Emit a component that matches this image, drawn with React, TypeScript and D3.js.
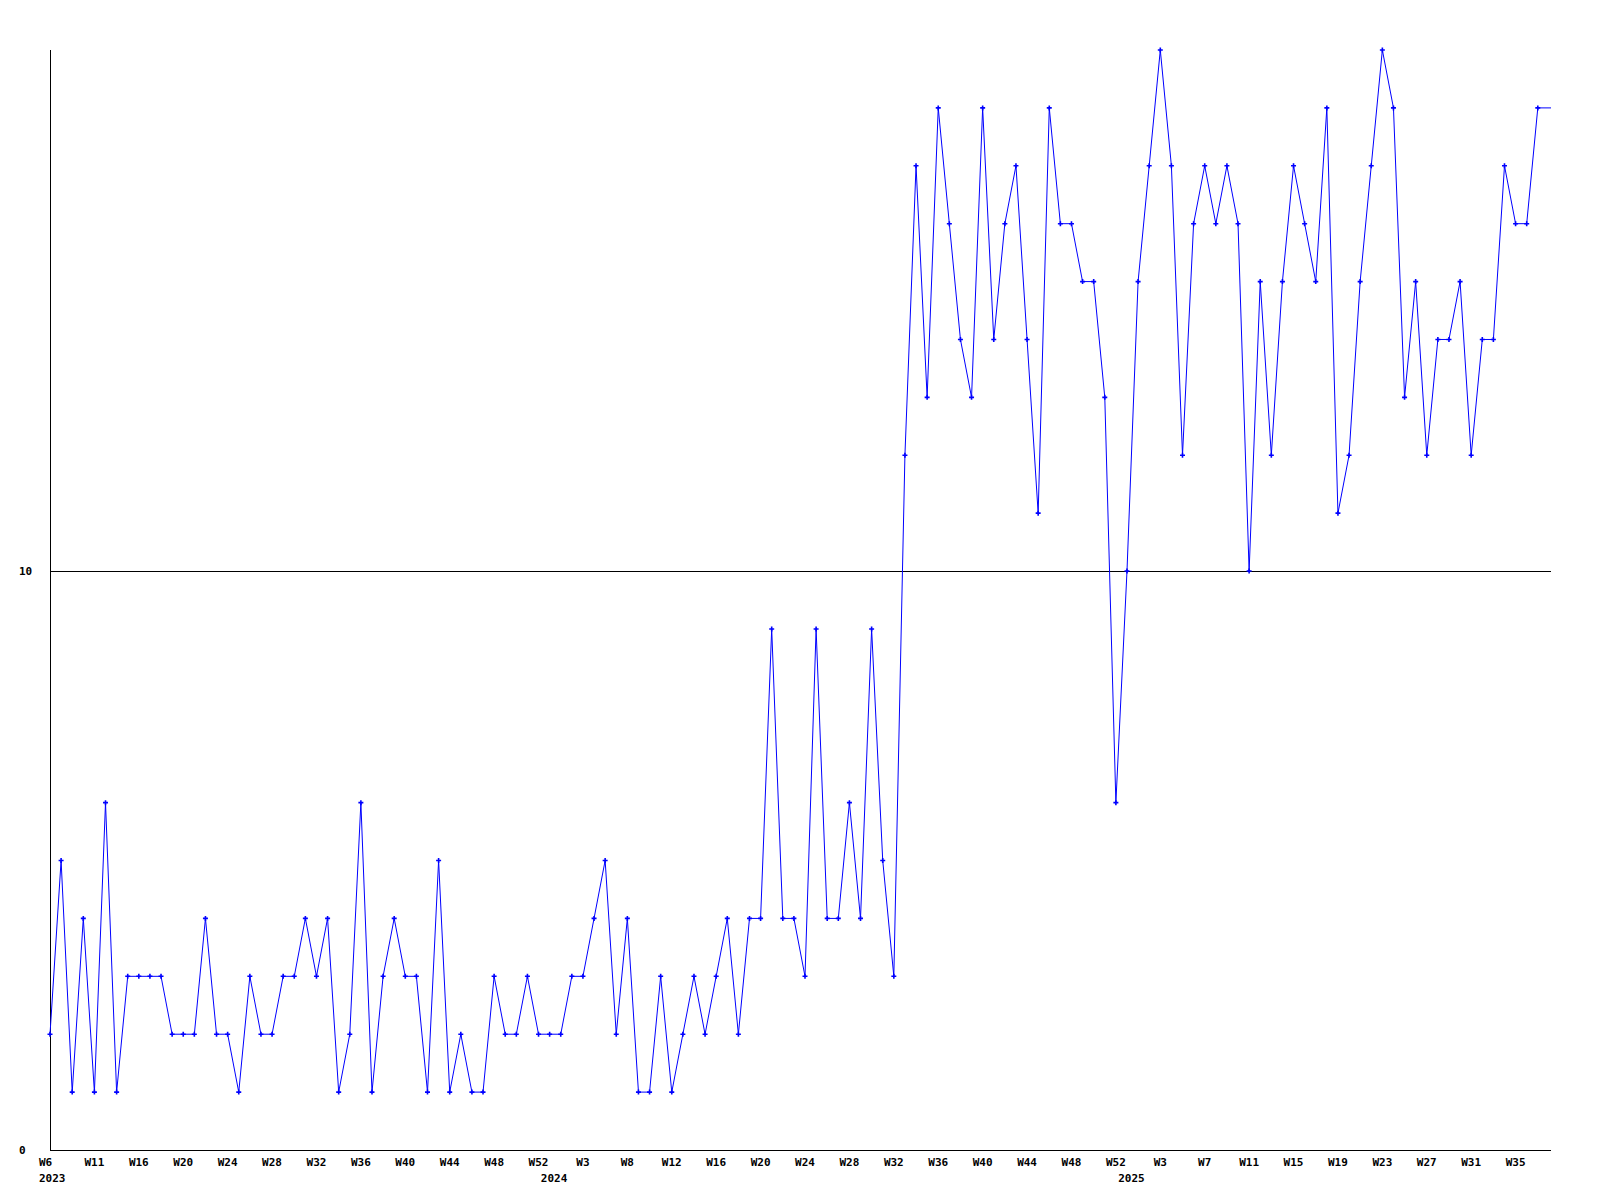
import React from "react";
import * as d3 from "d3";

// Weekly values, 2023 W6 .. 2025 W36 (one per week)
const values: number[] = [
  2, 5, 1, 4, 1, 6, 1, 3, 3, 3, 3, 2, 2, 2, 4, 2, 2, 1, 3, 2,
  2, 3, 3, 4, 3, 4, 1, 2, 6, 1, 3, 4, 3, 3, 1, 5, 1, 2, 1, 1,
  3, 2, 2, 3, 2, 2, 2, 3, 3, 4, 5, 2, 4, 1, 1, 3, 1, 2, 3, 2,
  3, 4, 2, 4, 4, 9, 4, 4, 3, 9, 4, 4, 6, 4, 9, 5, 3, 12, 17, 13,
  18, 16, 14, 13, 18, 14, 16, 17, 14, 11, 18, 16, 16, 15, 15, 13, 6, 10, 15, 17,
  19, 17, 12, 16, 17, 16, 17, 16, 10, 15, 12, 15, 17, 16, 15, 18, 11, 12, 15, 17,
  19, 18, 13, 15, 12, 14, 14, 15, 12, 14, 14, 17, 16, 16, 18,
];

// Week tick labels, one every 4 data points
const weekTickLabels: string[] = [
  "W6", "W11", "W16", "W20", "W24", "W28", "W32", "W36", "W40", "W44", "W48", "W52",
  "W3", "W8", "W12", "W16", "W20", "W24", "W28", "W32", "W36", "W40", "W44", "W48", "W52",
  "W3", "W7", "W11", "W15", "W19", "W23", "W27", "W31", "W35",
];
const tickStep = 4;

// Year labels with the index of the first week of each year
const years: string[] = ["2023", "2024", "2025"];
const yearStartIndex: number[] = [-5, 47, 99];

const yTicks: number[] = [0, 10];

const W = 1600;
const H = 1200;
const left = 50;
const right = 1551;
const top = 50;
const bottom = 1150;

export default function App() {
  const n = values.length;
  const xMax = (right - left) / ((1537.8 - left) / (n - 1));
  const x = d3.scaleLinear().domain([0, xMax]).range([left, right]);
  const y = d3.scaleLinear().domain([0, 19]).range([bottom, top]);

  const pts: [number, number][] = values.map((v, i) => [i, v]);
  const linePts: [number, number][] = [...pts, [xMax, values[n - 1]]];
  const line = d3
    .line<[number, number]>()
    .x((d) => x(d[0]))
    .y((d) => y(d[1]));

  const font = "'DejaVu Sans Mono', 'Liberation Mono', monospace";

  return (
    <svg
      width={W}
      height={H}
      style={{ position: "absolute", left: 0, top: 0, background: "#fff" }}
    >
      <rect x={0} y={0} width={W} height={H} fill="#fff" />
      {/* gridline at 10 */}
      {yTicks
        .filter((t) => t !== 0)
        .map((t) => (
          <line
            key={"g" + t}
            x1={left}
            x2={right}
            y1={Math.round(y(t)) + 0.5}
            y2={Math.round(y(t)) + 0.5}
            stroke="#000"
            strokeWidth={1}
          />
        ))}
      {/* axes */}
      <line x1={left + 0.5} x2={left + 0.5} y1={top} y2={bottom} stroke="#000" />
      <line x1={left} x2={right} y1={bottom + 0.5} y2={bottom + 0.5} stroke="#000" />
      {/* y labels */}
      {yTicks.map((t) => (
        <text
          key={"y" + t}
          x={19}
          y={y(t)}
          dy="0.36em"
          fontFamily={font}
          fontWeight="bold"
          fontSize={11}
          fill="#000"
        >
          {t}
        </text>
      ))}
      {/* week labels */}
      {weekTickLabels.map((lab, k) => (
        <text
          key={"w" + k}
          x={k === 0 ? x(0) - 11 : x(k * tickStep)}
          y={1162}
          dy="0.36em"
          textAnchor={k === 0 ? "start" : "middle"}
          fontFamily={font}
          fontWeight="bold"
          fontSize={11}
          fill="#000"
        >
          {lab}
        </text>
      ))}
      {/* year labels */}
      {years.map((yr, k) => {
        const cx = x(yearStartIndex[k] - 1.6);
        const clamp = cx - 14 < 39;
        return (
          <text
            key={"yr" + yr}
            x={clamp ? 39 : cx}
            y={1178}
            dy="0.36em"
            textAnchor={clamp ? "start" : "middle"}
            fontFamily={font}
            fontWeight="bold"
            fontSize={11}
            fill="#000"
          >
            {yr}
          </text>
        );
      })}
      {/* data line */}
      <path
        d={line(linePts) || ""}
        fill="none"
        stroke="#0000ff"
        strokeWidth={1}
      />
      {/* markers */}
      {pts.map(([i, v]) => {
        const cx = x(i);
        const cy = y(v);
        return (
          <path
            key={"m" + i}
            d={`M${cx - 2.5},${cy}H${cx + 2.5}M${cx},${cy - 2.5}V${cy + 2.5}`}
            stroke="#0000ff"
            strokeWidth={1.6}
            fill="none"
          />
        );
      })}
    </svg>
  );
}
